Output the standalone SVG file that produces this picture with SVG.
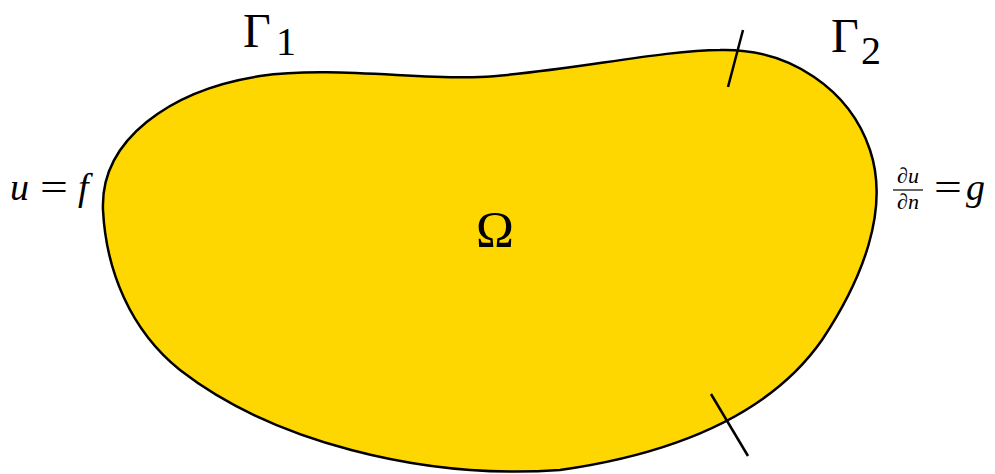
<svg xmlns="http://www.w3.org/2000/svg" width="995" height="474" viewBox="0 0 995 474">
<style>
text{font-family:'Liberation Serif','DejaVu Serif',serif;fill:#000}
.i{font-style:italic}
.tick{stroke:#000;stroke-width:2.5;fill:none}
</style>
<rect width="995" height="474" fill="#fff"/>
<path d="M 103 210 C 100 140, 170 90, 260 76 C 330 66, 420 80, 480 77 C 560 73, 660 50, 720 50 C 790 48, 850 90, 870 150 C 890 210, 862 280, 822 340 C 780 400, 700 450, 560 470 C 420 480, 270 440, 180 370 C 130 330, 106 270, 103 210 Z" fill="#FFD700" stroke="#000" stroke-width="2.5"/>
<line class="tick" x1="743" y1="30" x2="728" y2="87"/>
<line class="tick" x1="711" y1="394" x2="748" y2="456"/>
<text x="243" y="47" font-size="48">Γ</text>
<text x="276" y="55" font-size="40">1</text>
<text x="831" y="52" font-size="48">Γ</text>
<text x="861" y="64" font-size="40">2</text>
<text x="476" y="246" font-size="51">Ω</text>
<text x="10" y="200" font-size="38" class="i">u</text>
<text x="0" y="0" font-size="38" transform="translate(40 200) scale(1.3 1)">=</text>
<text x="78" y="200" font-size="38" class="i">f</text>
<text x="908" y="183" font-size="22" text-anchor="middle" class="i">∂u</text>
<line x1="893" y1="190" x2="923" y2="190" stroke="#000" stroke-width="1.2"/>
<text x="908" y="209" font-size="22" text-anchor="middle" class="i">∂n</text>
<text x="0" y="0" font-size="38" transform="translate(934 200) scale(1.3 1)">=</text>
<text x="966" y="200" font-size="38" class="i">g</text>
</svg>
